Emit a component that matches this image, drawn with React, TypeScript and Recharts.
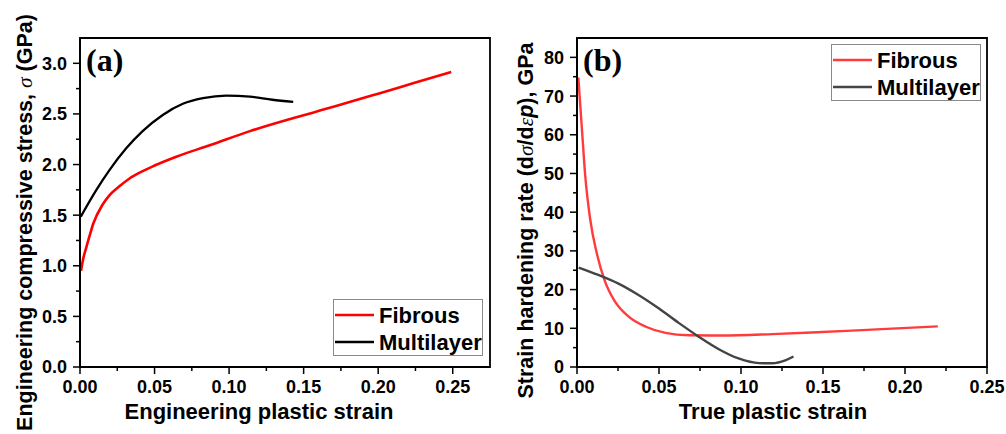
import React from 'react';
import { LineChart, Line, XAxis, YAxis, ReferenceArea, Legend } from 'recharts';

// (a) engineering stress-strain
const fibrousStress = [
  { x: 0.0007, y: 0.95 }, { x: 0.002, y: 1.06 }, { x: 0.004, y: 1.17 },
  { x: 0.0065, y: 1.3 }, { x: 0.009, y: 1.42 }, { x: 0.015, y: 1.6 },
  { x: 0.02, y: 1.7 }, { x: 0.026, y: 1.78 }, { x: 0.033, y: 1.86 },
  { x: 0.04, y: 1.92 }, { x: 0.05, y: 1.99 }, { x: 0.065, y: 2.08 },
  { x: 0.087, y: 2.19 }, { x: 0.114, y: 2.33 }, { x: 0.141, y: 2.45 },
  { x: 0.17, y: 2.57 }, { x: 0.2, y: 2.7 }, { x: 0.225, y: 2.81 },
  { x: 0.249, y: 2.915 },
];
const multilayerStress = [
  { x: 0.0005, y: 1.485 }, { x: 0.011, y: 1.75 }, { x: 0.02, y: 1.95 },
  { x: 0.031, y: 2.16 }, { x: 0.042, y: 2.33 }, { x: 0.0555, y: 2.49 },
  { x: 0.069, y: 2.6 }, { x: 0.0825, y: 2.655 }, { x: 0.098, y: 2.68 },
  { x: 0.114, y: 2.67 }, { x: 0.129, y: 2.64 }, { x: 0.143, y: 2.62 },
];

// (b) strain hardening rate
const fibrousRate = [
  { x: 0.0008, y: 74.8 }, { x: 0.003, y: 61.5 }, { x: 0.005, y: 49.5 },
  { x: 0.008, y: 38.3 }, { x: 0.012, y: 29.5 }, { x: 0.017, y: 22.2 },
  { x: 0.023, y: 17.0 }, { x: 0.0315, y: 13.0 }, { x: 0.042, y: 10.4 },
  { x: 0.054, y: 8.8 }, { x: 0.068, y: 8.2 }, { x: 0.0885, y: 8.15 },
  { x: 0.119, y: 8.5 }, { x: 0.143, y: 8.9 }, { x: 0.177, y: 9.6 },
  { x: 0.22, y: 10.5 },
];
const multilayerRate = [
  { x: 0.001, y: 25.7 }, { x: 0.013, y: 23.8 }, { x: 0.025, y: 21.6 },
  { x: 0.0375, y: 18.6 }, { x: 0.05, y: 15.1 }, { x: 0.062, y: 11.4 },
  { x: 0.074, y: 7.9 }, { x: 0.0865, y: 4.6 }, { x: 0.0985, y: 2.2 },
  { x: 0.111, y: 1.0 }, { x: 0.119, y: 0.95 }, { x: 0.127, y: 1.7 },
  { x: 0.132, y: 2.7 },
];

// ticks (minor + major)
const strainTicks = [0, 0.025, 0.05, 0.075, 0.1, 0.125, 0.15, 0.175, 0.2, 0.225, 0.25];
const strainMajor = [0, 0.05, 0.1, 0.15, 0.2, 0.25];
const stressTicks = [0, 0.25, 0.5, 0.75, 1, 1.25, 1.5, 1.75, 2, 2.25, 2.5, 2.75, 3];
const stressMajor = [0, 0.5, 1, 1.5, 2, 2.5, 3];
const rateTicks = [0, 5, 10, 15, 20, 25, 30, 35, 40, 45, 50, 55, 60, 65, 70, 75, 80];
const rateMajor = [0, 10, 20, 30, 40, 50, 60, 70, 80];

const SANS = '"Liberation Sans", Arial, sans-serif';
const SERIF = '"Liberation Serif", "Times New Roman", serif';

const isMajor = (majors: number[], v: number) => majors.some(m => Math.abs(m - v) < 1e-9);

const makeYTick = (majors: number[], digits: number) => (props: any) => {
  const { x, y, payload } = props;
  const major = isMajor(majors, payload.value);
  return (
    <g>
      <line x1={x} x2={x - (major ? 7 : 4)} y1={y} y2={y} stroke="#000" strokeWidth={1.5} />
      {major && (
        <text x={x - 13} y={y} dy="0.36em" textAnchor="end" fontFamily={SANS}
          fontWeight="bold" fontSize={18} fill="#000">
          {payload.value.toFixed(digits)}
        </text>
      )}
    </g>
  );
};

const makeXTick = (majors: number[]) => (props: any) => {
  const { x, y, payload } = props;
  const major = isMajor(majors, payload.value);
  return (
    <g>
      <line x1={x} x2={x} y1={y} y2={y + (major ? 7 : 4)} stroke="#000" strokeWidth={1.5} />
      {major && (
        <text x={x} y={y + 26} textAnchor="middle" fontFamily={SANS}
          fontWeight="bold" fontSize={18} fill="#000">
          {payload.value.toFixed(2)}
        </text>
      )}
    </g>
  );
};

const PanelTag = ({ viewBox, tag }: any) => (
  <text x={viewBox.x + 6} y={viewBox.y + 33} fontFamily={SERIF} fontWeight="bold"
    fontSize={32} fill="#000">
    {tag}
  </text>
);

const renderLegend = (props: any) => {
  const items = props.payload || [];
  return (
    <svg width={150} height={57} style={{ display: 'block' }}>
      <rect x={0.5} y={0.5} width={149} height={56} fill="#fff" stroke="#8a8a8a" strokeWidth={1} />
      {items.map((it: any, i: number) => (
        <g key={it.value}>
          <line x1={2} x2={41} y1={16 + i * 27} y2={16 + i * 27} stroke={it.color} strokeWidth={2.5} />
          <text x={46} y={23.5 + i * 27} fontFamily={SANS} fontWeight="bold" fontSize={22} fill="#000">
            {it.value}
          </text>
        </g>
      ))}
    </svg>
  );
};

const StressChart = () => (
  <LineChart width={500} height={434} margin={{ top: 38, right: 10, bottom: 0, left: 0 }}>
    <XAxis dataKey="x" type="number" domain={[0, 0.275]} ticks={strainTicks} interval={0}
      tick={makeXTick(strainMajor)} tickLine={false} tickSize={0} tickMargin={0} height={67}
      axisLine={{ stroke: '#000', strokeWidth: 1.8 }} allowDataOverflow
      label={({ viewBox }: any) => (
        <text x={viewBox.x + viewBox.width / 2 - 26} y={viewBox.y + 52} textAnchor="middle"
          fontFamily={SANS} fontWeight="bold" fontSize={22} fill="#000">
          Engineering plastic strain
        </text>
      )} />
    <YAxis type="number" domain={[0, 3.25]} ticks={stressTicks} interval={0} width={80}
      tick={makeYTick(stressMajor, 1)} tickLine={false} tickSize={0} tickMargin={0}
      axisLine={{ stroke: '#000', strokeWidth: 1.8 }} allowDataOverflow
      label={({ viewBox }: any) => {
        const cx = 32;
        const cy = viewBox.y + viewBox.height / 2 + 20;
        return (
          <text x={cx} y={cy} transform={`rotate(-90, ${cx}, ${cy})`} textAnchor="middle"
            fontFamily={SANS} fontWeight="bold" fontSize={21.5} fill="#000">
            Engineering compressive stress,{' '}
            <tspan fontFamily={SERIF} fontStyle="italic" fontWeight="normal">σ</tspan> (GPa)
          </text>
        );
      }} />
    <ReferenceArea x1={0} x2={0.275} y1={0} y2={3.25} fill="none" stroke="#000" strokeWidth={1.8}
      label={<PanelTag tag="(a)" />} />
    <Legend layout="vertical" align="center" verticalAlign="middle" content={renderLegend}
      wrapperStyle={{ left: 333, top: 299, width: 150, height: 57 }} />
    <Line data={fibrousStress} dataKey="y" name="Fibrous" type="monotone" stroke="#ff0000"
      strokeWidth={2.6} dot={false} isAnimationActive={false} />
    <Line data={multilayerStress} dataKey="y" name="Multilayer" type="monotone" stroke="#000000"
      strokeWidth={2.3} dot={false} isAnimationActive={false} />
  </LineChart>
);

const RateChart = () => (
  <LineChart width={506} height={434} margin={{ top: 38, right: 19, bottom: 0, left: 0 }}>
    <XAxis dataKey="x" type="number" domain={[0, 0.25]} ticks={strainTicks} interval={0}
      tick={makeXTick(strainMajor)} tickLine={false} tickSize={0} tickMargin={0} height={67}
      axisLine={{ stroke: '#000', strokeWidth: 1.8 }} allowDataOverflow
      label={({ viewBox }: any) => (
        <text x={viewBox.x + viewBox.width / 2 - 9} y={viewBox.y + 52} textAnchor="middle"
          fontFamily={SANS} fontWeight="bold" fontSize={22} fill="#000">
          True plastic strain
        </text>
      )} />
    <YAxis type="number" domain={[0, 85]} ticks={rateTicks} interval={0} width={77}
      tick={makeYTick(rateMajor, 0)} tickLine={false} tickSize={0} tickMargin={0}
      axisLine={{ stroke: '#000', strokeWidth: 1.8 }} allowDataOverflow
      label={({ viewBox }: any) => {
        const cx = 33;
        const cy = viewBox.y + viewBox.height / 2 + 18;
        return (
          <text x={cx} y={cy} transform={`rotate(-90, ${cx}, ${cy})`} textAnchor="middle"
            fontFamily={SANS} fontWeight="bold" fontSize={21.5} fill="#000">
            Strain hardening rate (d
            <tspan fontFamily={SERIF} fontStyle="italic" fontWeight="normal">σ</tspan>/d
            <tspan fontFamily={SERIF} fontStyle="italic" fontWeight="normal">ε</tspan>
            <tspan fontStyle="italic">p</tspan>), GPa
          </text>
        );
      }} />
    <ReferenceArea x1={0} x2={0.25} y1={0} y2={85} fill="none" stroke="#000" strokeWidth={1.8}
      label={<PanelTag tag="(b)" />} />
    <Legend layout="vertical" align="center" verticalAlign="middle" content={renderLegend}
      wrapperStyle={{ left: 331, top: 44, width: 150, height: 57 }} />
    <Line data={fibrousRate} dataKey="y" name="Fibrous" type="monotone" stroke="#ff3b3b"
      strokeWidth={2.4} dot={false} isAnimationActive={false} />
    <Line data={multilayerRate} dataKey="y" name="Multilayer" type="monotone" stroke="#444444"
      strokeWidth={2.4} dot={false} isAnimationActive={false} />
  </LineChart>
);

export default function App() {
  return (
    <div style={{ position: 'absolute', left: 0, top: 0, width: 1006, height: 434, background: '#fff', display: 'flex' }}>
      <StressChart />
      <RateChart />
    </div>
  );
}
